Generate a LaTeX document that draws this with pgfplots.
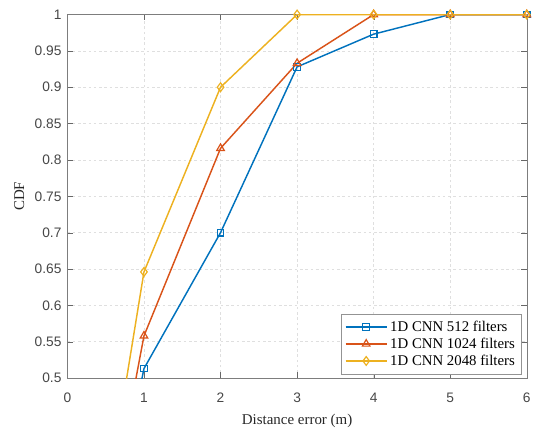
\documentclass[border=0pt]{standalone}
\usepackage{fontspec}
\setmainfont{Liberation Serif}
\setsansfont{Liberation Sans}
\usepackage{pgfplots}
\pgfplotsset{compat=1.18}

\definecolor{mblue}{rgb}{0,0.447,0.741}
\definecolor{morange}{rgb}{0.85,0.325,0.098}
\definecolor{myellow}{rgb}{0.929,0.694,0.125}
\definecolor{maxis}{rgb}{0.15,0.15,0.15}

\begin{document}
\begin{tikzpicture}
\begin{axis}[
  scale only axis,
  width=347.5pt, height=275pt,
  xmin=0, xmax=6, ymin=0.5, ymax=1,
  xtick={0,1,...,6},
  ytick={0.5,0.55,...,1.001},
  tick align=inside,
  axis line style={maxis!60},
  major tick style={maxis!70},
  tick label style={font=\sffamily\fontsize{10.4}{12}\selectfont, text=maxis!85},
  xticklabel style={yshift=-8pt},
  yticklabel style={xshift=-1pt},
  /pgf/number format/assume math mode=true,
  xmajorgrids, ymajorgrids,
  grid style={gray!25, dash pattern=on 2pt off 2pt},
  xlabel={Distance error (m)},
  ylabel={CDF},
  label style={font=\fontsize{11.3}{13}\selectfont, text=maxis},
  xlabel style={yshift=-1.5pt},
  ylabel style={yshift=1pt},
  legend style={at={(0.989,0.011)}, anchor=south east,
    font=\fontsize{11.2}{12}\selectfont,
    draw=maxis!50, cells={anchor=west}, row sep=-0.5pt,
    inner sep=3pt},
  legend cell align=left,
  legend image code/.code={
    \draw[line width=1.1pt, mark repeat=2, mark phase=2]
      plot coordinates {(0cm,0cm) (0.55cm,0cm) (1.1cm,0cm)};
  },
]
\coordinate (tl) at (rel axis cs:0,1);
\coordinate (br) at (rel axis cs:1,0);
\addplot[mblue, line width=1.1pt, mark=square, mark size=2.5pt,
  mark options={solid, line width=0.9pt, fill=none}] coordinates {
  (0,0) (1,0.513) (2,0.700) (3,0.928) (4,0.973) (5,1) (6,1)
};
\addlegendentry{1D CNN 512 filters}
\addplot[morange, line width=1.1pt, mark=triangle, mark size=3.3pt,
  mark options={solid, line width=0.9pt, fill=none}] coordinates {
  (0,0) (1,0.558) (2,0.816) (3,0.933) (4,1) (5,1) (6,1)
};
\addlegendentry{1D CNN 1024 filters}
\addplot[myellow, line width=1.1pt, mark=diamond, mark size=3.3pt,
  mark options={solid, line width=0.9pt, fill=none}] coordinates {
  (0,0) (1,0.646) (2,0.900) (3,1) (4,1) (5,1) (6,1)
};
\addlegendentry{1D CNN 2048 filters}
\end{axis}
\path (tl) ++(-51pt,11pt);
\path (br) ++(3.75pt,-36.75pt);
\end{tikzpicture}
\end{document}
